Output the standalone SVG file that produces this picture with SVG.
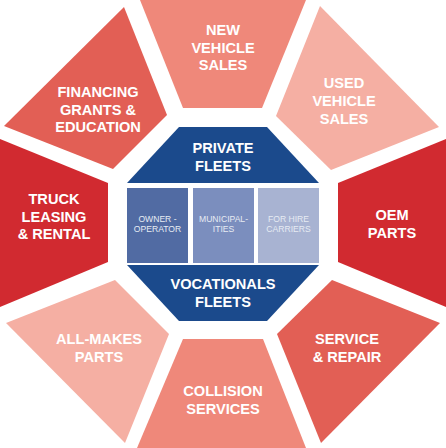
<svg xmlns="http://www.w3.org/2000/svg" width="446" height="448" viewBox="0 0 446 448">
<style>
.t{font-family:"Liberation Sans","Open Sans",sans-serif;font-weight:700;font-size:14.6px;fill:#fff;text-anchor:middle}
.s{font-family:"Liberation Sans","Open Sans",sans-serif;font-weight:400;font-size:8.6px;fill:#e6ebf3;text-anchor:middle}
.c1{fill:#d12a30}.c2{fill:#e25f55}.c3{fill:#ef887a}.c4{fill:#f5afa3}.bl{fill:#1b4a8c}
</style>
<rect width="446" height="448" fill="#fff"/>
<g id="new-vehicle-sales"><polygon class="c3" points="140,0 306,0 262,108 183,108"/>
<text class="t" x="223" y="35">NEW</text><text class="t" x="223" y="52.5">VEHICLE</text><text class="t" x="223" y="70">SALES</text></g>
<g id="used-vehicle-sales"><polygon class="c4" points="320,6 439,127 331,170 276,116"/>
<text class="t" x="344" y="88">USED</text><text class="t" x="344" y="106">VEHICLE</text><text class="t" x="344" y="123.5">SALES</text></g>
<g id="oem-parts"><polygon class="c1" points="338,183 446,139 446,307 338,262"/>
<text class="t" x="392" y="220">OEM</text><text class="t" x="392" y="237.5">PARTS</text></g>
<g id="service-repair"><polygon class="c2" points="332,280 440,323 321,443 277,334"/>
<text class="t" x="347" y="344">SERVICE</text><text class="t" x="347" y="361.5">&amp; REPAIR</text></g>
<g id="collision-services"><polygon class="c3" points="183,339 263,339 306,448 137,448"/>
<text class="t" x="223" y="396">COLLISION</text><text class="t" x="223" y="413.5">SERVICES</text></g>
<g id="all-makes-parts"><polygon class="c4" points="115,280 169,334 125,443 6,323"/>
<text class="t" x="99" y="344">ALL-MAKES</text><text class="t" x="99" y="361.5">PARTS</text></g>
<g id="truck-leasing"><polygon class="c1" points="0,139 108,183 108,262 0,307"/>
<text class="t" x="54" y="204">TRUCK</text><text class="t" x="54" y="221.5">LEASING</text><text class="t" x="54" y="239">&amp; RENTAL</text></g>
<g id="financing"><polygon class="c2" points="124,7 167,115 113,169 4,126"/>
<text class="t" x="98" y="97">FINANCING</text><text class="t" x="98" y="114.5">GRANTS &amp;</text><text class="t" x="98" y="132">EDUCATION</text></g>
<g id="private-fleets"><polygon class="bl" points="179,127 267,127 319,183 127,183"/>
<text class="t" x="223" y="153">PRIVATE</text><text class="t" x="223" y="170.5">FLEETS</text></g>
<g id="owner-operator"><rect x="127" y="188" width="61" height="75" fill="#516ba3"/>
<text class="s" x="157.5" y="221.5">OWNER -</text><text class="s" x="157.5" y="232">OPERATOR</text></g>
<g id="municipalities"><rect x="193" y="188" width="61" height="75" fill="#7b8ebe"/>
<text class="s" x="223.5" y="221.5">MUNICIPAL-</text><text class="s" x="223.5" y="232">ITIES</text></g>
<g id="for-hire-carriers"><rect x="258" y="188" width="61" height="75" fill="#a8b3d2"/>
<text class="s" x="288.5" y="221.5">FOR HIRE</text><text class="s" x="288.5" y="232">CARRIERS</text></g>
<g id="vocationals-fleets"><polygon class="bl" points="127,265 319,265 267,321 179,321"/>
<text class="t" x="223" y="289">VOCATIONALS</text><text class="t" x="223" y="306.5">FLEETS</text></g>
<g id="connectors"></g>
</svg>
